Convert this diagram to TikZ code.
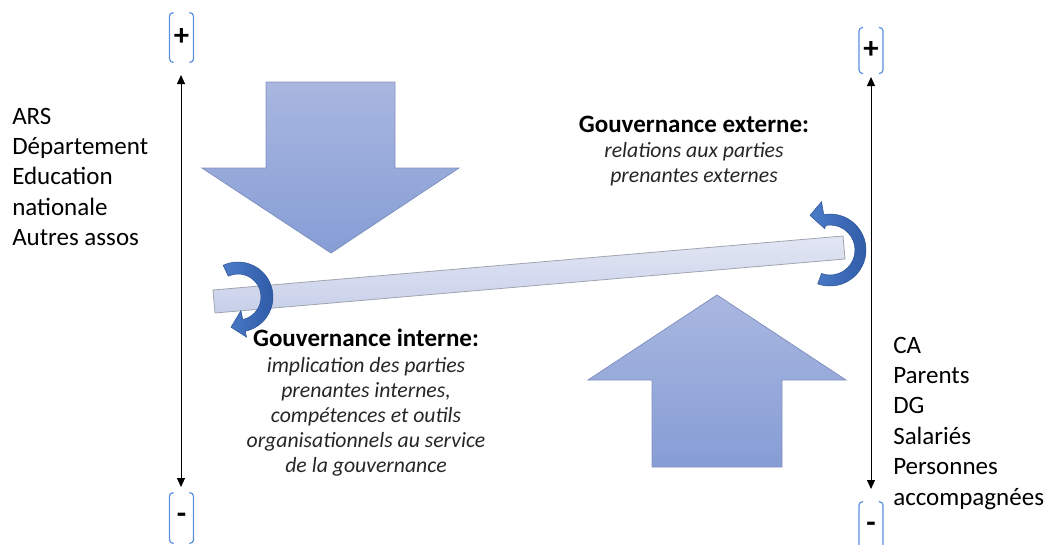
\documentclass[tikz,border=0pt]{standalone}
\usepackage{fontspec}
\setmainfont{Carlito}
\usetikzlibrary{arrows.meta}
\definecolor{bigarrowtop}{HTML}{A9B7E0}
\definecolor{bigarrowbot}{HTML}{869DD5}
\definecolor{bigarrowedge}{HTML}{8292C0}
\definecolor{barlight}{HTML}{E2E6F4}
\definecolor{bardark}{HTML}{C8D0EA}
\definecolor{baredge}{HTML}{A0A4AE}
\definecolor{curllight}{HTML}{4C7CC8}
\definecolor{curldark}{HTML}{2E5AA6}
\definecolor{curledge}{HTML}{2F5597}
\definecolor{brkblue}{HTML}{5B8FE0}
\begin{document}
\begin{tikzpicture}[x=0.75pt,y=-0.75pt,
  bigarrow/.style={top color=bigarrowtop, bottom color=bigarrowbot, draw=bigarrowedge, line width=0.6pt},
  curl/.style={left color=curllight, right color=curldark, draw=curledge, line width=0.4pt},
  barstyle/.style={top color=barlight, bottom color=bardark, draw=baredge, line width=0.6pt},
  axis/.style={{Triangle[length=6.75pt,width=6pt]}-{Triangle[length=6.75pt,width=6pt]}, line width=0.75pt},
  sign/.style={font=\bfseries\fontsize{23}{25}\selectfont, minimum width=17.5pt, inner sep=0pt},
  brk/.style={draw=brkblue, line width=0.9pt, rounded corners=2.5pt},
  sidetext/.style={anchor=base west, inner sep=0pt, font=\fontsize{18.75}{22.8}\selectfont},
  headtext/.style={anchor=base, inner sep=0pt, font=\bfseries\fontsize{18.75}{22.8}\selectfont},
  desctext/.style={anchor=base, inner sep=0pt, font=\itshape\fontsize{16.3}{18.75}\selectfont, text=black!85}]
\path[use as bounding box] (0,0) rectangle (1050,544);

% tilted bar
\shade[barstyle] (213,290) -- (843,236) -- (845,259) -- (215,313) -- cycle;

% big arrows
\shade[bigarrow] (266,82) -- (395,82) -- (395,168) -- (459,168) -- (331,253) -- (202,168) -- (266,168) -- cycle;
\shade[bigarrow] (717,295) -- (846,380) -- (782,380) -- (782,467) -- (652,467) -- (652,380) -- (588,380) -- cycle;

% curled arrows
\begin{scope}[shift={(238,297)}]
  \shadedraw[curl] (-115:35) arc[start angle=-115, end angle=78, radius=35] -- (78:41) -- (103:31) -- (78:14) -- (78:23) arc[start angle=78, end angle=-115, radius=23] -- cycle;
\end{scope}
\begin{scope}[shift={(830,250)}]
  \shadedraw[curl] (110:36) arc[start angle=110, end angle=-100, radius=36] -- (-100:49) -- (-120:40) -- (-104:22) -- (-100:25) arc[start angle=-100, end angle=110, radius=25] -- cycle;
\end{scope}

% signs and brackets
\node[sign, minimum height=36.75pt] (pL) at (181.5,37.5) {+};
\node[sign, minimum height=37.5pt] (mL) at (181.5,518) {-};
\node[sign, minimum height=34pt] (pR) at (871,50.5) {+};
\node[sign, minimum height=37.5pt] (mR) at (871,527) {-};
\foreach \n in {pL,mL,pR,mR}{
  \draw[brk] ([xshift=3pt]\n.north west) -- (\n.north west) -- (\n.south west) -- ([xshift=3pt]\n.south west);
  \draw[brk] ([xshift=-3pt]\n.north east) -- (\n.north east) -- (\n.south east) -- ([xshift=-3pt]\n.south east);
}

% axes
\coordinate (aLt) at (181,75);
\coordinate (aLb) at (181,487);
\coordinate (aRt) at (871,77);
\coordinate (aRb) at (871,489);
\draw[axis] (aLb) -- (aLt);
\draw[axis] (aRb) -- (aRt);

% texts
\node[sidetext] (extlist) at (12,124) {\begin{tabular}[t]{@{}l@{}}ARS\\Département\\Education\\nationale\\Autres assos\end{tabular}};
\node[sidetext] (intlist) at (893,353) {\begin{tabular}[t]{@{}l@{}}CA\\Parents\\DG\\Salariés\\Personnes\\accompagnées\end{tabular}};
\node[headtext] (exthead) at (694,132) {Gouvernance externe:};
\node[desctext] (extdesc) at (694,157) {\begin{tabular}[t]{@{}c@{}}relations aux parties\\prenantes externes\end{tabular}};
\node[headtext] (inthead) at (366,346) {Gouvernance interne:};
\node[desctext] (intdesc) at (366,372) {\begin{tabular}[t]{@{}c@{}}implication des parties\\prenantes internes,\\compétences et outils\\organisationnels au service\\de la gouvernance\end{tabular}};
\end{tikzpicture}
\end{document}
